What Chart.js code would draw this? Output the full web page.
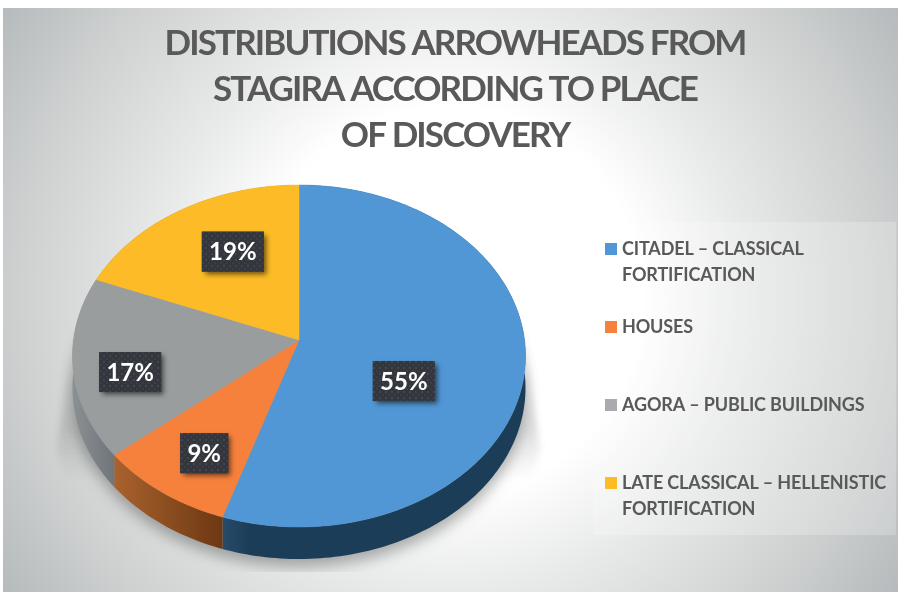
<!DOCTYPE html>
<html><head><meta charset="utf-8">
<style>html,body{margin:0;padding:0;background:#fff}canvas{display:block}</style>
<script src="https://cdn.jsdelivr.net/npm/chart.js@4"></script>
</head><body>
<canvas id="c" width="900" height="592"></canvas>
<script>
const categories = [
  ["CITADEL – CLASSICAL", "FORTIFICATION"],
  ["HOUSES"],
  ["AGORA – PUBLIC BUILDINGS"],
  ["LATE CLASSICAL – HELLENISTIC", "FORTIFICATION"]
];
const percentages = [55, 9, 17, 19];
const titleLines = ["DISTRIBUTIONS ARROWHEADS FROM", "STAGIRA ACCORDING TO PLACE", "OF DISCOVERY"];
const topColours = ["#5197d5", "#f5813c", "#9a9d9e", "#fdbc27"];
const legendColours = ["#5197d5", "#f5813c", "#a9abae", "#fdbc27"];
const wallColours = [["#274b6a", "#1b3d57"], ["#a9622e", "#6d3812"], ["#8b9093", "#6f7579"], ["#a87c16", "#a87c16"]];
const labelNudges = [[-30, 25], [-15, 25], [-34, 16], [6.5, -8]];

// projected disk geometry (tilted view with perspective)
const CX = 299, CY = 340, RX = 225.5, RY = 169.5, K = 0.0936, DEPTH = 32;
function project(a, f) {
  const u = Math.cos(a) * f, v = Math.sin(a) * f, w = 1 - K * v;
  return [CX + RX * u / w, CY + RY * v / w];
}
function rimPoints(a0, a1, dy) {
  const n = Math.max(8, Math.ceil((a1 - a0) / 0.02)), pts = [];
  for (let i = 0; i <= n; i++) {
    const p = project(a0 + (a1 - a0) * i / n, 1);
    pts.push([p[0], p[1] + dy]);
  }
  return pts;
}
function poly(ctx, pts) {
  ctx.beginPath();
  pts.forEach((p, i) => i ? ctx.lineTo(p[0], p[1]) : ctx.moveTo(p[0], p[1]));
  ctx.closePath();
}
function dotPattern(ctx) {
  const o = document.createElement('canvas'); o.width = 6; o.height = 6;
  const g = o.getContext('2d');
  g.fillStyle = '#33363c'; g.fillRect(0, 0, 6, 6);
  g.fillStyle = '#43464d'; g.fillRect(1, 1, 2, 2);
  g.fillStyle = '#3b3e44'; g.fillRect(4, 4, 2, 2);
  return ctx.createPattern(o, 'repeat');
}

const backdrop = {
  id: 'backdrop',
  beforeDraw(chart) {
    const ctx = chart.ctx;
    ctx.save();
    ctx.fillStyle = '#fff'; ctx.fillRect(0, 0, 900, 592);
    const g = ctx.createRadialGradient(450, 300, 0, 450, 300, 535);
    g.addColorStop(0, '#ffffff'); g.addColorStop(0.36, '#ffffff');
    g.addColorStop(0.55, '#e8e9e9'); g.addColorStop(0.8, '#cfd1d1'); g.addColorStop(1, '#b5babc');
    ctx.fillStyle = g; ctx.fillRect(3, 8, 895, 584);
    ctx.fillStyle = 'rgba(255,255,255,0.22)'; ctx.fillRect(593, 222, 303, 313);
    ctx.restore();
    ctx.letterSpacing = '-1.9px';
  }
};

const tiltedPie = {
  id: 'tiltedPie',
  beforeDatasetsDraw(chart) {
    const ctx = chart.ctx, arcs = chart.getDatasetMeta(0).data;
    ctx.letterSpacing = '0px';
    // ground shadow
    ctx.save();
    ctx.beginPath(); ctx.rect(3, 8, 895, 564); ctx.clip();
    ctx.filter = 'blur(3px)';
    const wedge = ctx.createLinearGradient(0, 330, 0, 480);
    wedge.addColorStop(0, 'rgba(60,62,62,0)');
    wedge.addColorStop(0.65, 'rgba(60,62,62,0.17)');
    wedge.addColorStop(1, 'rgba(60,62,62,0)');
    ctx.fillStyle = wedge;
    poly(ctx, [[72, 330], [526, 330], [540, 450], [530, 480], [68, 480], [57, 450]]);
    ctx.fill();
    ctx.filter = 'blur(7px)';
    ctx.fillStyle = 'rgba(60,62,62,0.4)';
    poly(ctx, rimPoints(0, Math.PI * 2, DEPTH + 8));
    ctx.fill();
    ctx.restore();
    // side walls
    arcs.forEach((el, i) => {
      const pts = rimPoints(el.startAngle, el.endAngle, 0);
      const low = rimPoints(el.startAngle, el.endAngle, DEPTH).reverse();
      const xs = pts.map(p => p[0]);
      const xl = Math.min(...xs), xr = i === 0 ? xl + 28 : Math.max(...xs);
      const g = ctx.createLinearGradient(xl, 0, xr, 0);
      g.addColorStop(0, wallColours[i][0]); g.addColorStop(1, wallColours[i][1]);
      ctx.fillStyle = g;
      poly(ctx, pts.concat(low));
      ctx.fill();
    });
    // top faces
    arcs.forEach((el, i) => {
      const pts = [[CX, CY]].concat(rimPoints(el.startAngle, el.endAngle, 0));
      ctx.fillStyle = topColours[i];
      ctx.strokeStyle = topColours[i];
      ctx.lineWidth = 0.5;
      poly(ctx, pts);
      ctx.fill(); ctx.stroke();
    });
    // value labels
    const pat = dotPattern(ctx);
    ctx.font = 'bold 24px Lato';
    ctx.textAlign = 'center'; ctx.textBaseline = 'middle';
    arcs.forEach((el, i) => {
      const p = project((el.startAngle + el.endAngle) / 2, 0.6);
      const x = p[0] + labelNudges[i][0], y = p[1] + labelNudges[i][1];
      const text = chart.data.datasets[0].data[i] + '%';
      const w = Math.round(ctx.measureText(text).width) + 14, h = 40;
      ctx.save();
      ctx.shadowColor = 'rgba(0,0,0,0.55)'; ctx.shadowBlur = 5;
      ctx.shadowOffsetX = 3; ctx.shadowOffsetY = 3;
      ctx.fillStyle = '#33363c';
      ctx.fillRect(x - w / 2, y - h / 2, w, h);
      ctx.restore();
      ctx.fillStyle = pat;
      ctx.fillRect(x - w / 2, y - h / 2, w, h);
      ctx.fillStyle = '#ffffff';
      ctx.fillText(text, x, y + 1);
    });
    return false;
  },
  afterDraw(chart) {
    const ctx = chart.ctx;
    ctx.save();
    ctx.font = 'bold 18px Lato';
    ctx.letterSpacing = '-0.15px';
    ctx.textAlign = 'left'; ctx.textBaseline = 'middle';
    chart.data.labels.forEach((lines, i) => {
      const y = 249 + i * 78;
      ctx.fillStyle = legendColours[i];
      ctx.fillRect(605, y - 6, 12, 12);
      ctx.fillStyle = '#595959';
      lines.forEach((t, j) => ctx.fillText(t, 622, y + 0.5 + j * 26));
    });
    ctx.restore();
    ctx.letterSpacing = '0px';
  }
};

new Chart(document.getElementById('c'), {
  type: 'pie',
  data: { labels: categories, datasets: [{ data: percentages, backgroundColor: topColours, borderWidth: 0 }] },
  options: {
    responsive: false,
    animation: false,
    events: [],
    layout: { padding: { left: 10, top: 21 } },
    plugins: {
      legend: { display: false },
      tooltip: { enabled: false },
      title: {
        display: true,
        text: titleLines,
        color: '#595959',
        font: { family: 'Lato', size: 35, weight: 'bold', lineHeight: 1.314 },
        padding: { top: 0, bottom: 8 }
      }
    }
  },
  plugins: [backdrop, tiltedPie]
});
</script>
</body></html>
